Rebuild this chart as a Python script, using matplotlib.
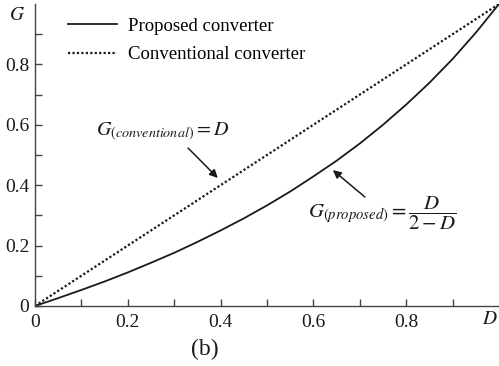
import matplotlib.pyplot as plt
from matplotlib.ticker import FixedFormatter, FixedLocator

plt.rcParams["font.family"] = "Liberation Serif"
plt.rcParams["mathtext.fontset"] = "stix"

# duty cycle and voltage gain values
duty = [0.0, 0.05, 0.1, 0.15, 0.2, 0.25, 0.3, 0.35, 0.4, 0.45, 0.5,
        0.55, 0.6, 0.65, 0.7, 0.75, 0.8, 0.85, 0.9, 0.95, 1.0]
gain_proposed = [0.0, 0.026, 0.053, 0.081, 0.111, 0.143, 0.176, 0.212, 0.25, 0.29, 0.333,
                 0.379, 0.429, 0.481, 0.538, 0.6, 0.667, 0.739, 0.818, 0.905, 1.0]
gain_conventional = [0.0, 0.05, 0.1, 0.15, 0.2, 0.25, 0.3, 0.35, 0.4, 0.45, 0.5,
                     0.55, 0.6, 0.65, 0.7, 0.75, 0.8, 0.85, 0.9, 0.95, 1.0]

x_ticks = [0, 0.2, 0.4, 0.6, 0.8]
x_labels = ["0", "0.2", "0.4", "0.6", "0.8"]
y_ticks = [0, 0.2, 0.4, 0.6, 0.8]
y_labels = ["0", "0.2", "0.4", "0.6", "0.8"]

fig = plt.figure(figsize=(4.99, 3.66), dpi=100)
ax = fig.add_axes([0.070, 0.164, 0.93, 0.825])

ink = "#1a1a1a"
ax.plot(duty, gain_proposed, color=ink, lw=1.3, label="Proposed converter")
ax.plot(duty, gain_conventional, color=ink, lw=1.6, linestyle=(0, (1, 1)),
        label="Conventional converter")

ax.set_xlim(0, 1.0)
ax.set_ylim(0, 1.0)

ax.spines["top"].set_visible(False)
ax.spines["right"].set_visible(False)
for s in ["left", "bottom"]:
    ax.spines[s].set_color("#444444")
    ax.spines[s].set_linewidth(1.0)

ax.xaxis.set_major_locator(FixedLocator(x_ticks))
ax.xaxis.set_major_formatter(FixedFormatter(x_labels))
ax.yaxis.set_major_locator(FixedLocator(y_ticks))
ax.yaxis.set_major_formatter(FixedFormatter(y_labels))
ax.xaxis.set_minor_locator(FixedLocator([0.1, 0.3, 0.5, 0.7, 0.9]))
ax.yaxis.set_minor_locator(FixedLocator([0.1, 0.3, 0.5, 0.7, 0.9]))
ax.tick_params(which="both", direction="in", length=5, width=1.0,
               color="#444444", labelsize=14, labelcolor=ink)
ax.tick_params(axis="x", pad=6)
ax.tick_params(axis="y", pad=4)

# axis names
ax.text(-0.022, 0.962, "$G$", fontsize=14, ha="right", va="center", color=ink)
ax.text(0.98, -0.046, "$D$", fontsize=14, ha="center", va="center", color=ink)

ax.legend(loc="upper left", bbox_to_anchor=(0.035, 1.01), frameon=False,
          fontsize=13.5, handlelength=2.6, handletextpad=0.6, labelspacing=0.6)

# equation labels with arrows
ax.text(0.276, 0.576, r"$G_{(conventional)} = D$", fontsize=14.5,
        ha="center", va="center", color=ink)
ax.annotate("", xy=(0.394, 0.424), xytext=(0.33, 0.523),
            arrowprops=dict(arrowstyle="-|>", color=ink, lw=1.1,
                            mutation_scale=12, shrinkA=0, shrinkB=0))
ax.text(0.748, 0.308, r"$G_{(proposed)} = \dfrac{D}{2-D}$", fontsize=15,
        ha="center", va="center", color=ink)
ax.annotate("", xy=(0.642, 0.45), xytext=(0.711, 0.361),
            arrowprops=dict(arrowstyle="-|>", color=ink, lw=1.1,
                            mutation_scale=12, shrinkA=0, shrinkB=0))

fig.text(0.41, 0.045, "(b)", fontsize=17, ha="center", va="center", color=ink)

fig.savefig("out.png", dpi=100)
